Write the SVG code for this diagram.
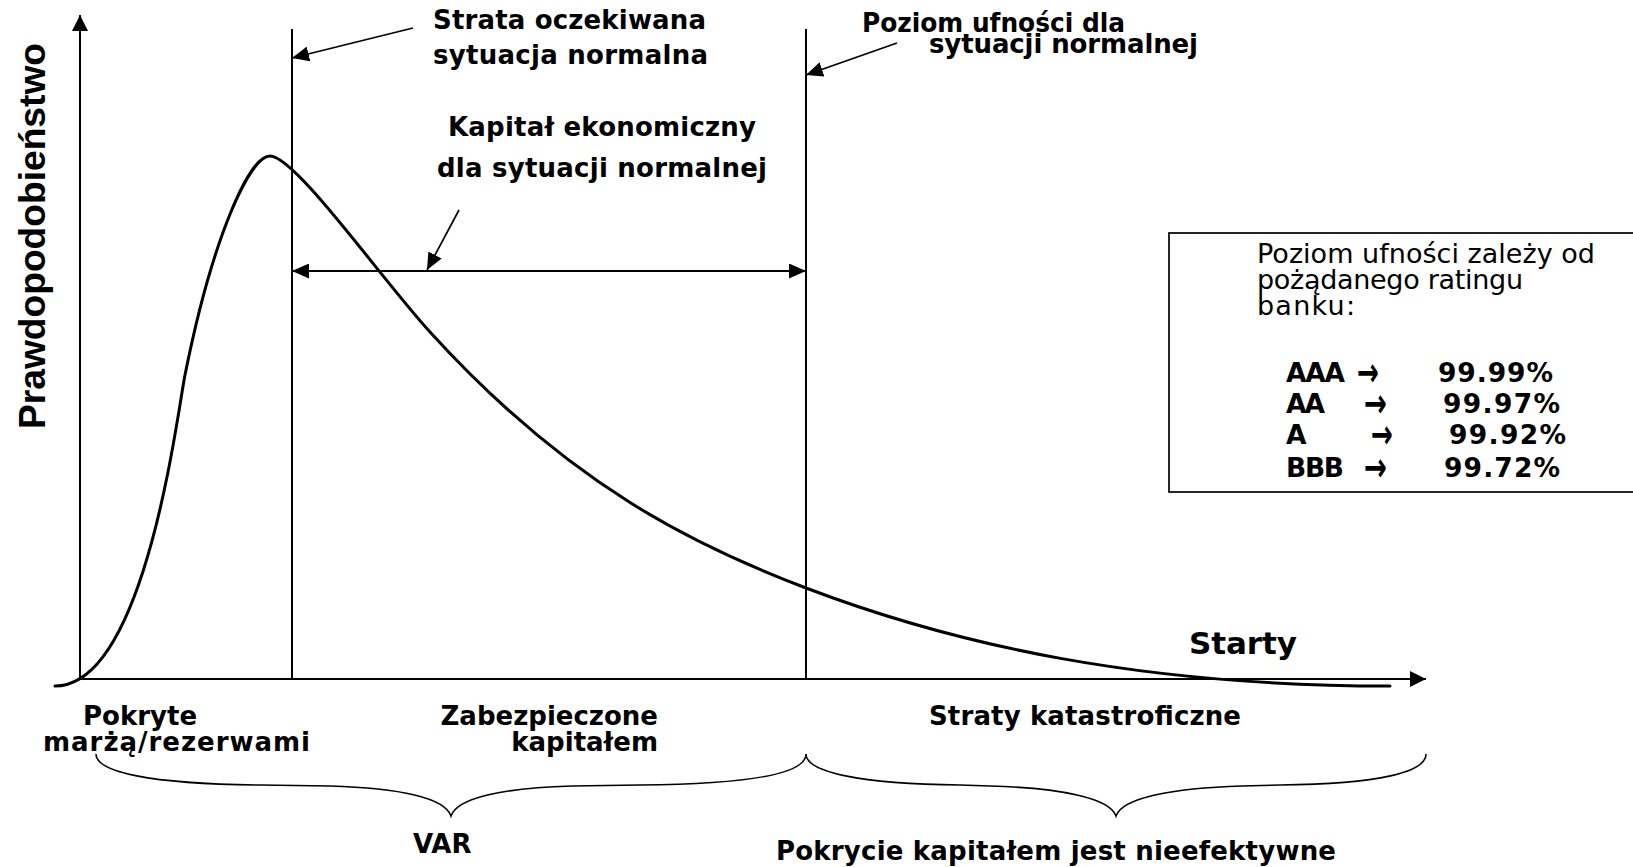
<svg xmlns="http://www.w3.org/2000/svg" width="1633" height="867" viewBox="0 0 1633 867">
  <style>
    .bg { fill: #ffffff; }
    .ln { stroke: #000; fill: none; stroke-width: 2; }
    .thin { stroke: #000; fill: none; stroke-width: 1.7; }
    .curve { stroke: #000; fill: none; stroke-width: 3; stroke-linecap: round; }
    .brace { stroke: #000; fill: none; stroke-width: 1.6; }
    .lbl { font-family: "DejaVu Sans", Verdana, sans-serif; font-weight: bold; font-size: 26px; fill: #000; }
    .lbl26 { font-family: "DejaVu Sans", Verdana, sans-serif; font-weight: bold; font-size: 26px; fill: #000; }
    .rate { font-family: "DejaVu Sans", Verdana, sans-serif; font-weight: bold; font-size: 26.5px; fill: #000; }
    .arr { font-family: "DejaVu Sans", sans-serif; font-weight: bold; font-size: 40px; fill: #000; }
    .note { font-family: "DejaVu Sans", Verdana, sans-serif; font-size: 27px; fill: #000; }
    .ylab { font-family: "Liberation Sans", Arial, sans-serif; font-weight: bold; font-size: 37px; fill: #000; }
  </style>
  <defs>
    <marker id="axisHead" viewBox="0 0 16 16" refX="16" refY="8" markerWidth="16" markerHeight="16" orient="auto" markerUnits="userSpaceOnUse">
      <path d="M0,0 L16,8 L0,16 z" fill="#000"/>
    </marker>
    <marker id="ptrHead" viewBox="0 0 17 15" refX="17" refY="7.5" markerWidth="17" markerHeight="15" orient="auto-start-reverse" markerUnits="userSpaceOnUse">
      <path d="M0,0 L17,7.5 L0,15 z" fill="#000"/>
    </marker>
  </defs>

  <rect class="bg" x="0" y="0" width="1633" height="867"/>

  <!-- axes -->
  <g id="axes">
    <line class="ln" x1="80" y1="679" x2="80" y2="15" marker-end="url(#axisHead)"/>
    <line class="ln" x1="80" y1="679" x2="1426" y2="679" marker-end="url(#axisHead)"/>
    <text class="ylab" transform="translate(45,429) rotate(-90)" textLength="386" lengthAdjust="spacingAndGlyphs">Prawdopodobieństwo</text>
    <text class="lbl26" x="1189" y="654" style="font-size:31px" textLength="108">Starty</text>
  </g>

  <!-- loss distribution -->
  <g id="loss-curve">
    <path class="curve" d="M55,686 C145,686 177,415 185,375 C213,235 250,156 270,156 C295,156 380,277 430,332 C570,486 696,546.2 806,588 C956,645 1140,686 1390,686"/>
  </g>

  <!-- expected loss line -->
  <g id="expected-loss">
    <line class="ln" x1="292" y1="29" x2="292" y2="679"/>
    <text class="lbl" x="433" y="29" textLength="273">Strata oczekiwana</text>
    <text class="lbl" x="433" y="64" textLength="275">sytuacja normalna</text>
  </g>

  <!-- confidence level line -->
  <g id="confidence-level">
    <line class="ln" x1="806" y1="29" x2="806" y2="679"/>
    <text class="lbl" x="862" y="32" textLength="263" lengthAdjust="spacingAndGlyphs">Poziom ufności dla</text>
    <text class="lbl" x="929" y="53" textLength="269">sytuacji normalnej</text>
  </g>

  <!-- economic capital -->
  <g id="economic-capital">
    <text class="lbl" x="448" y="136" textLength="308">Kapitał ekonomiczny</text>
    <text class="lbl" x="437" y="177" textLength="330">dla sytuacji normalnej</text>
  </g>

  <!-- rating note -->
  <g id="rating-note">
    <rect class="thin" x="1169" y="233" width="480" height="259"/>
    <text class="note" x="1257" y="263" textLength="338">Poziom ufności zależy od</text>
    <text class="note" x="1257" y="289" textLength="266">pożądanego ratingu</text>
    <text class="note" x="1257" y="315" textLength="98">banku:</text>
    <text class="rate" x="1286" y="382" textLength="59">AAA</text>
    <text class="arr" x="1357" y="386" textLength="22" lengthAdjust="spacingAndGlyphs">→</text>
    <text class="rate" x="1438" y="382" textLength="115">99.99%</text>
    <text class="rate" x="1286" y="413" textLength="39">AA</text>
    <text class="arr" x="1364" y="417" textLength="23" lengthAdjust="spacingAndGlyphs">→</text>
    <text class="rate" x="1443" y="413" textLength="117">99.97%</text>
    <text class="rate" x="1286" y="444">A</text>
    <text class="arr" x="1371" y="448" textLength="22" lengthAdjust="spacingAndGlyphs">→</text>
    <text class="rate" x="1449" y="444" textLength="117">99.92%</text>
    <text class="rate" x="1286" y="477" textLength="58">BBB</text>
    <text class="arr" x="1364" y="481" textLength="23" lengthAdjust="spacingAndGlyphs">→</text>
    <text class="rate" x="1444" y="477" textLength="116">99.72%</text>
  </g>

  <!-- zone labels under the axis -->
  <g id="zone-reserves">
    <text class="lbl26" x="83" y="725">Pokryte</text>
    <text class="lbl26" x="43" y="751" textLength="267">marżą/rezerwami</text>
  </g>
  <g id="zone-capital">
    <text class="lbl26" x="658" y="725" text-anchor="end">Zabezpieczone</text>
    <text class="lbl26" x="658" y="751" text-anchor="end">kapitałem</text>
  </g>
  <g id="zone-catastrophic">
    <text class="lbl26" x="929" y="725" textLength="312">Straty katastroficzne</text>
  </g>

  <!-- braces -->
  <g id="var-brace">
    <path class="brace" d="M96,754 C96,772 150,784 260,785 L330,786 C400,788 445,798 451,816 C457,798 502,788 572,786 L640,785 C760,784 806,772 806,754"/>
    <text class="lbl26" x="413" y="853">VAR</text>
  </g>
  <g id="tail-brace">
    <path class="brace" d="M806,754 C806,772 860,784 960,785 L990,786 C1060,788 1110,798 1116,816 C1122,798 1172,788 1242,786 L1280,785 C1380,784 1426,772 1426,754"/>
    <text class="lbl26" x="776" y="860" textLength="560">Pokrycie kapitałem jest nieefektywne</text>
  </g>

  <!-- connectors -->
  <g id="connectors">
    <line class="thin" x1="413" y1="28" x2="292" y2="58" marker-end="url(#ptrHead)"/>
    <line class="thin" x1="897" y1="43" x2="806" y2="75" marker-end="url(#ptrHead)"/>
    <line class="thin" x1="459" y1="210" x2="427" y2="270" marker-end="url(#ptrHead)"/>
    <line class="ln" x1="292" y1="271" x2="806" y2="271" marker-start="url(#ptrHead)" marker-end="url(#ptrHead)"/>
  </g>
</svg>
